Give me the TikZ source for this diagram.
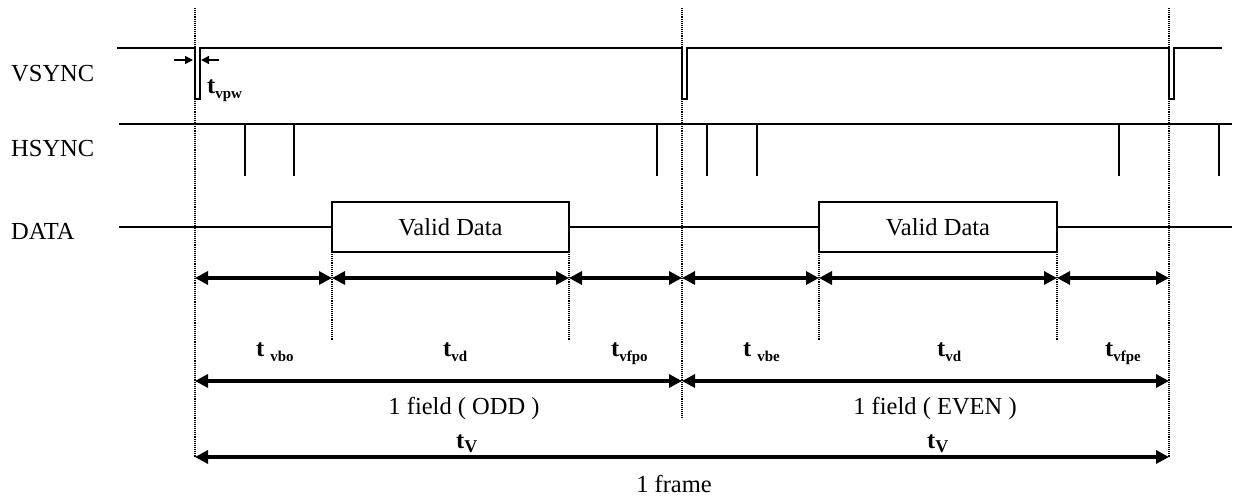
\documentclass[tikz,border=0pt]{standalone}
\usepackage{fontspec}
\setmainfont{Liberation Serif}
\usetikzlibrary{arrows.meta}
\newcommand\tsub[2]{\textbf{t}#1\raisebox{-5pt}{\fontsize{15}{16}\selectfont\bfseries #2}}
\begin{document}
\begin{tikzpicture}[x=1pt,y=-1pt,
  sig/.style={line width=1.8pt, line join=miter},
  guide/.style={line width=2pt, dash pattern=on 1pt off 0.9pt},
  dimarrow/.style={line width=3.2pt, {Triangle[length=13pt,width=13pt]}-{Triangle[length=13pt,width=13pt]}},
  pwarrow/.style={line width=1.5pt, -{Triangle[length=8pt,width=8pt]}},
  lbl/.style={font=\fontsize{24.5}{28}\selectfont, inner sep=0pt, anchor=base west},
  databox/.style={draw, line width=1.8pt, minimum height=50pt, inner sep=0pt, font=\fontsize{24.5}{28}\selectfont}]
\useasboundingbox (0,0) rectangle (1234,497);

% guide lines
\draw[guide] (195,8) -- (195,457);
\draw[guide] (682,8) -- (682,417);
\draw[guide] (1169,8) -- (1169,457);
\foreach \x in {332,569,819,1057} \draw[guide] (\x,252) -- (\x,340);

% signal labels
\node[lbl] (lv) at (11,82) {VSYNC};
\node[lbl] (lh) at (11,157) {HSYNC};
\node[lbl] (ld) at (11,240) {DATA};

% VSYNC
\draw[sig] (117,48) -- (195,48) -- (195,99) -- (200,99) -- (200,48) -- (682,48) -- (682,99) -- (687,99) -- (687,48)
  -- (1169,48) -- (1169,99) -- (1174,99) -- (1174,48) -- (1222,48);

% t_vpw
\coordinate (pwa) at (174,60);
\coordinate (pwb) at (193,60);
\coordinate (pwc) at (219,60);
\coordinate (pwd) at (201,60);
\draw[pwarrow] (pwa) -- (pwb);
\draw[pwarrow] (pwc) -- (pwd);
\node[lbl] (tvpw) at (207,94) {\tsub{}{vpw}};

% HSYNC
\draw[sig] (119,124) -- (1232,124);
\foreach \x in {245,294,657,707,757,1119,1219} \draw[sig] (\x,124) -- (\x,176);

% DATA
\node[databox, minimum width=237pt] (vd1) at (450.5,227) {Valid Data};
\node[databox, minimum width=238pt] (vd2) at (938,227) {Valid Data};
\coordinate (ds) at (119,227);
\coordinate (de) at (1232,227);
\draw[sig] (ds) -- (vd1.west);
\draw[sig] (vd1.east) -- (vd2.west);
\draw[sig] (vd2.east) -- (de);

% dimension row 1
\foreach \n/\x in {a/195,b/332,c/569,d/682,e/819,f/1057,g/1169} {
  \coordinate (r1\n) at (\x,278);
}
\draw[dimarrow] (r1a) -- (r1b);
\draw[dimarrow] (r1b) -- (r1c);
\draw[dimarrow] (r1c) -- (r1d);
\draw[dimarrow] (r1d) -- (r1e);
\draw[dimarrow] (r1e) -- (r1f);
\draw[dimarrow] (r1f) -- (r1g);

\node[lbl] (tvbo) at (256,356) {\tsub{\hspace{6pt}}{vbo}};
\node[lbl] (tvd1) at (443,356) {\tsub{}{vd}};
\node[lbl] (tvfpo) at (611,356) {\tsub{}{vfpo}};
\node[lbl] (tvbe) at (743,356) {\tsub{\hspace{6pt}}{vbe}};
\node[lbl] (tvd2) at (937,356) {\tsub{}{vd}};
\node[lbl] (tvfpe) at (1105,356) {\tsub{}{vfpe}};

% dimension row 2
\coordinate (r2a) at (195,381);
\coordinate (r2b) at (682,381);
\coordinate (r2c) at (1169,381);
\draw[dimarrow] (r2a) -- (r2b);
\draw[dimarrow] (r2b) -- (r2c);
\node[lbl, anchor=base] (f1) at (464,414) {1 field ( ODD )};
\node[lbl, anchor=base] (f2) at (935,414) {1 field ( EVEN )};
\node[lbl] (tv1) at (456,448) {\textbf{t}\raisebox{-4pt}{\fontsize{18}{19}\selectfont\bfseries V}};
\node[lbl] (tv2) at (927,448) {\textbf{t}\raisebox{-4pt}{\fontsize{18}{19}\selectfont\bfseries V}};

% dimension row 3
\coordinate (r3a) at (195,457);
\coordinate (r3b) at (1169,457);
\draw[dimarrow] (r3a) -- (r3b);
\node[lbl, anchor=base] (fr) at (674,492) {1 frame};
\end{tikzpicture}
\end{document}
